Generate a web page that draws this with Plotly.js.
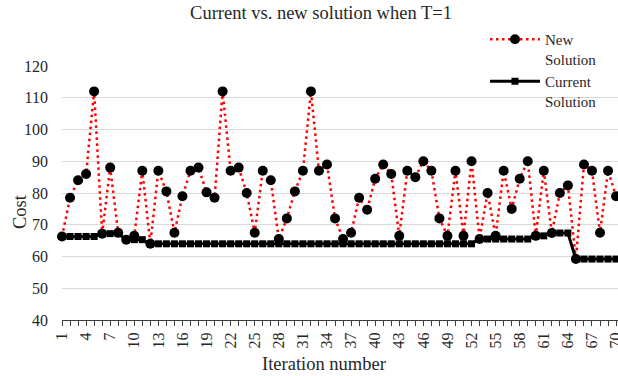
<!DOCTYPE html>
<html>
<head>
<meta charset="utf-8">
<script src="https://cdn.plot.ly/plotly-3.0.1.min.js"></script>
<style>html,body{margin:0;padding:0;background:#fff;}#chart{width:618px;height:376px;}</style>
</head>
<body>
<div id="chart"></div>
<script>
// Iteration numbers
var iterations = [];
for (var i = 1; i <= 70; i++) iterations.push(i);

// New solution cost at each iteration
var newSolution = [
  66.3, 78.5, 84, 86, 112, 67.2, 88, 67.5, 65.3, 66.5,
  87, 64, 87, 80.5, 67.5, 79, 87, 88, 80.2, 78.5,
  112, 87, 88, 80, 67.5, 87, 84, 65.5, 72, 80.5,
  87, 112, 87, 89, 72, 65.5, 67.5, 78.5, 74.7, 84.5,
  89, 86, 66.5, 87, 85, 90, 87, 72, 66.5, 87,
  66.5, 90, 65.5, 80, 66.5, 87, 75, 84.5, 90, 66.5,
  87, 67.4, 80, 82.4, 59.2, 89, 87, 67.5, 87, 79
];

// Current (accepted) solution cost at each iteration
var currentSolution = [
  66.3, 66.3, 66.3, 66.3, 66.3, 67.2, 67.2, 67.2, 65.3, 65.3,
  65.3, 64, 64, 64, 64, 64, 64, 64, 64, 64,
  64, 64, 64, 64, 64, 64, 64, 64, 64, 64,
  64, 64, 64, 64, 64, 64, 64, 64, 64, 64,
  64, 64, 64, 64, 64, 64, 64, 64, 64, 64,
  64, 64, 65.5, 65.5, 65.5, 65.5, 65.5, 65.5, 65.5, 66.5,
  66.5, 67.4, 67.4, 67.4, 59.2, 59.2, 59.2, 59.2, 59.2, 59.2
];

// Labelled ticks every 3 iterations
var labelTicks = [];
for (var t = 1; t <= 70; t += 3) labelTicks.push(t);
var labelText = labelTicks.map(String);

var FONT = "Liberation Serif, 'Times New Roman', serif";
var TXT = '#262626';

var traces = [
  {
    x: iterations, y: newSolution, name: 'New<br>Solution',
    type: 'scatter', mode: 'lines+markers', cliponaxis: false,
    line: {color: '#ff0000', width: 2.5, dash: '2.5px,3.5px'},
    marker: {color: '#000000', size: 10, symbol: 'circle'}
  },
  {
    x: iterations, y: currentSolution, name: 'Current<br>Solution',
    type: 'scatter', mode: 'lines+markers', cliponaxis: false,
    line: {color: '#000000', width: 3},
    marker: {color: '#000000', size: 7, symbol: 'square'}
  }
];

var layout = {
  width: 618, height: 376,
  margin: {l: 62, r: 0, t: 66, b: 56, pad: 0},
  paper_bgcolor: '#ffffff', plot_bgcolor: '#ffffff',
  font: {family: FONT, color: TXT, size: 16},
  title: {
    text: 'Current vs. new solution when T=1',
    font: {family: FONT, size: 18.5, color: TXT},
    x: 321 / 618, xref: 'container', xanchor: 'center',
    y: 1 - 13 / 376, yref: 'container', yanchor: 'middle'
  },
  xaxis: {
    range: [1, 70.24], showgrid: false, zeroline: false,
    showline: true, linecolor: '#404040', linewidth: 1,
    tickmode: 'array', tickvals: labelTicks, ticktext: labelText,
    ticks: 'outside', ticklen: 5, tickcolor: '#404040', tickwidth: 1,
    ticklabeloverflow: 'allow',
    tickangle: -90, tickfont: {family: FONT, size: 16, color: TXT},
    minor: {tickmode: 'linear', tick0: 1, dtick: 1, ticks: 'outside', ticklen: 5, tickcolor: '#404040', tickwidth: 1, showgrid: false}
  },
  yaxis: {
    range: [40, 120], dtick: 10, tick0: 40,
    showgrid: true, gridcolor: '#d9d9d9', gridwidth: 1,
    zeroline: false, showline: false, ticks: '',
    ticklabelstandoff: 13,
    tickfont: {family: FONT, size: 16, color: TXT}
  },
  showlegend: true,
  legend: {
    x: (485 - 62) / 556, xanchor: 'left', xref: 'paper',
    y: (320 - 23) / 254, yanchor: 'top', yref: 'paper',
    bgcolor: 'rgba(0,0,0,0)', borderwidth: 0,
    font: {family: FONT, size: 15, color: TXT},
    itemwidth: 50, valign: 'top', tracegroupgap: 0
  },
  annotations: [
    {
      text: 'Cost', textangle: -90, showarrow: false,
      xref: 'paper', yref: 'paper',
      x: (20 - 62) / 556, y: (320 - 212) / 254, xanchor: 'center', yanchor: 'middle',
      font: {family: FONT, size: 18.5, color: TXT}
    },
    {
      text: 'Iteration number', showarrow: false,
      xref: 'paper', yref: 'paper',
      x: (323.7 - 62) / 556, y: (320 - 364) / 254, xanchor: 'center', yanchor: 'middle',
      font: {family: FONT, size: 18.5, color: TXT}
    }
  ]
};

Plotly.newPlot('chart', traces, layout, {displayModeBar: false, staticPlot: true});
</script>
</body>
</html>
